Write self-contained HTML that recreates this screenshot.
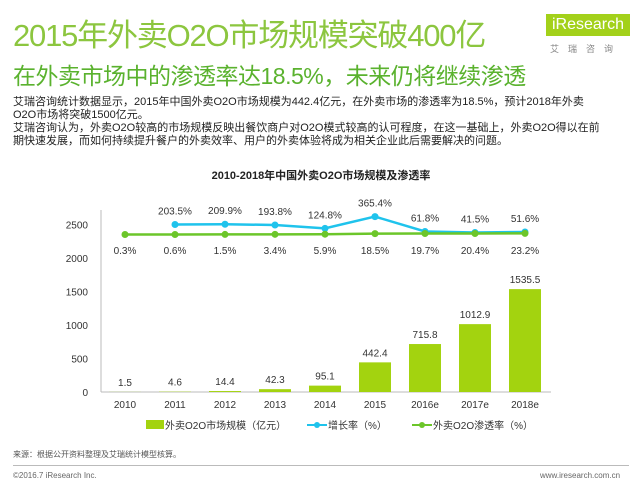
<!DOCTYPE html>
<html><head><meta charset="utf-8">
<style>
body{margin:0;width:642px;height:486px;background:#fff;overflow:hidden;font-family:"Liberation Sans","Noto Sans CJK SC",sans-serif;position:relative}
.a{position:absolute;white-space:nowrap}
</style></head><body>
<div class="a" style="left:13px;top:10px;font-size:31px;color:#8cc63f;letter-spacing:-1.2px">2015年外卖O2O市场规模突破400亿</div>
<div class="a" style="left:13px;top:57px;font-size:23px;color:#5ab22e;letter-spacing:-0.5px">在外卖市场中的渗透率达18.5%，未来仍将继续渗透</div>
<div class="a" style="left:546px;top:14px;width:84px;height:22px;background:#a3d11a;color:#fff;font-size:16px;line-height:22px;text-align:center">iResearch</div>
<div class="a" style="left:550px;top:42px;font-size:9px;color:#888;letter-spacing:9px">艾瑞咨询</div>
<div class="a" style="left:13px;top:96px;font-size:11px;line-height:13px;color:#222;white-space:normal;width:610px">艾瑞咨询统计数据显示，2015年中国外卖O2O市场规模为442.4亿元，在外卖市场的渗透率为18.5%，预计2018年外卖<br>O2O市场将突破1500亿元。<br>艾瑞咨询认为，外卖O2O较高的市场规模反映出餐饮商户对O2O模式较高的认可程度，在这一基础上，外卖O2O得以在前<br>期快速发展，而如何持续提升餐户的外卖效率、用户的外卖体验将成为相关企业此后需要解决的问题。</div>
<svg class="a" style="left:0;top:0" width="642" height="486" id="chart"></svg>
<div class="a" style="left:13px;top:449px;font-size:8px;color:#555">来源：根据公开资料整理及艾瑞统计模型核算。</div>
<div class="a" style="left:13px;top:465px;width:616px;height:1px;background:#bbb"></div>
<div class="a" style="left:13px;top:471px;font-size:8px;color:#666">©2016.7 iResearch Inc.</div>
<div class="a" style="left:540px;top:471px;font-size:8px;color:#666">www.iresearch.com.cn</div>
<script>
const categories=["2010","2011","2012","2013","2014","2015","2016e","2017e","2018e"];
const marketSize=[1.5,4.6,14.4,42.3,95.1,442.4,715.8,1012.9,1535.5];
const growth=[null,203.5,209.9,193.8,124.8,365.4,61.8,41.5,51.6];
const penetration=[0.3,0.6,1.5,3.4,5.9,18.5,19.7,20.4,23.2];
const yTicks=[0,500,1000,1500,2000,2500];
const NS="http://www.w3.org/2000/svg";
const svg=document.getElementById('chart');
function mk(t,a,txt){const e=document.createElementNS(NS,t);for(const k in a)e.setAttribute(k,a[k]);if(txt!==undefined)e.textContent=txt;svg.appendChild(e);return e;}
const x=i=>125+i*50;
const y=v=>392-v*(167.5/2500);
const y2=v=>234.5-v*0.049;
let t=mk('text',{x:321,y:179,'font-size':11,'font-weight':'bold','text-anchor':'middle',fill:'#222'},'2010-2018年中国外卖O2O市场规模及渗透率');

let ax=mk('line',{x1:101,y1:210,x2:101,y2:392,stroke:'#bbb'});

ax=mk('line',{x1:101,y1:392,x2:551,y2:392,stroke:'#bbb'});

yTicks.forEach(v=>{const e=mk('text',{x:88,y:y(v)+4,'font-size':10,'text-anchor':'end',fill:'#333'},String(v));
});
categories.forEach((c,i)=>{
const b=mk('rect',{x:x(i)-16,y:y(marketSize[i]),width:32,height:392-y(marketSize[i]),fill:'#a3d30f'});

const l=mk('text',{x:x(i),y:Math.min(y(marketSize[i]),392)-6,'font-size':10,'text-anchor':'middle',fill:'#333'},String(marketSize[i]));

const xl=mk('text',{x:x(i),y:408,'font-size':10,'text-anchor':'middle',fill:'#333'},c);

});
let pts=growth.map((v,i)=>v==null?null:[x(i),y2(v)]).filter(p=>p);
let gl=mk('polyline',{points:pts.map(p=>p.join(',')).join(' '),fill:'none',stroke:'#1fc3ec','stroke-width':2.5});

growth.forEach((v,i)=>{if(v==null)return;
const p=mk('circle',{cx:x(i),cy:y2(v),r:3.5,fill:'#1fc3ec'});
const l=mk('text',{x:x(i),y:y2(v)-10,'font-size':10,'text-anchor':'middle',fill:'#333'},v+'%');});
let pl=mk('polyline',{points:penetration.map((v,i)=>x(i)+','+y2(v)).join(' '),fill:'none',stroke:'#6cc62a','stroke-width':2.5});

penetration.forEach((v,i)=>{
const p=mk('circle',{cx:x(i),cy:y2(v),r:3.5,fill:'#6cc62a'});
const l=mk('text',{x:x(i),y:254,'font-size':10,'text-anchor':'middle',fill:'#333'},v+'%');});
let g=mk('rect',{x:146,y:420,width:18,height:9,fill:'#a3d30f'});
g=mk('text',{x:165,y:429,'font-size':10,fill:'#333'},'外卖O2O市场规模（亿元）');
g=mk('line',{x1:307,y1:425,x2:327,y2:425,stroke:'#1fc3ec','stroke-width':2});
mk('circle',{cx:317,cy:425,r:3,fill:'#1fc3ec'});
g=mk('text',{x:328,y:429,'font-size':10,fill:'#333'},'增长率（%）');
g=mk('line',{x1:412,y1:425,x2:432,y2:425,stroke:'#6cc62a','stroke-width':2});
mk('circle',{cx:422,cy:425,r:3,fill:'#6cc62a'});
g=mk('text',{x:433,y:429,'font-size':10,fill:'#333'},'外卖O2O渗透率（%）');
</script>
</body></html>
